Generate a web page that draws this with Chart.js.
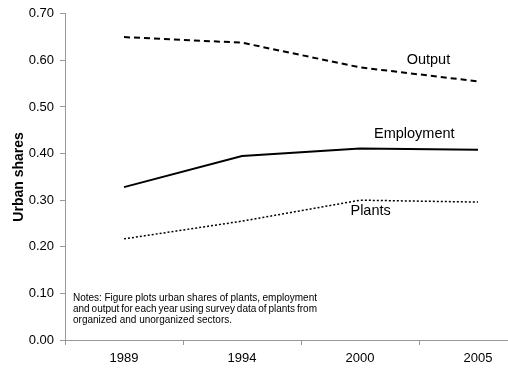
<!DOCTYPE html>
<html>
<head>
<meta charset="utf-8">
<script src="https://cdn.jsdelivr.net/npm/chart.js@4"></script>
<style>
html,body{margin:0;padding:0;background:#fff;overflow:hidden;}
canvas{display:block;}
</style>
</head>
<body>
<canvas id="c" width="540" height="371"></canvas>
<script>
const years = ['1989','1994','2000','2005'];
const output = [0.650, 0.638, 0.585, 0.555];
const employment = [0.328, 0.395, 0.411, 0.408];
const plants = [0.217, 0.255, 0.300, 0.296];
const yTicks = [0, 0.1, 0.2, 0.3, 0.4, 0.5, 0.6, 0.7];
const noteLines = [
  'Notes: Figure plots urban shares of plants, employment',
  'and output for each year using survey data of plants from',
  'organized and unorganized sectors.'
];

const FONT = '"Liberation Sans", Arial, sans-serif';

// series labels and the notes box
const labelsPlugin = {
  id:'seriesLabels',
  afterDraw(chart){
    const ctx = chart.ctx, x = chart.scales.x, y = chart.scales.y;
    ctx.save();
    ctx.fillStyle = '#000';
    ctx.font = '14.5px ' + FONT;
    ctx.textAlign = 'center';
    ctx.textBaseline = 'middle';
    ctx.fillText('Output', x.getPixelForValue(2.58), y.getPixelForValue(0.601));
    ctx.fillText('Employment', x.getPixelForValue(2.46), y.getPixelForValue(0.442));
    ctx.fillText('Plants', x.getPixelForValue(2.09), y.getPixelForValue(0.276));

    // notes, justified like the original
    ctx.font = '10px ' + FONT;
    ctx.textAlign = 'left';
    const left = chart.chartArea.left + 8, w = 244;
    noteLines.forEach((line, i) => {
      const ty = chart.chartArea.bottom - 42 + i * 11;
      const words = line.split(' ');
      let gap;
      if (i === noteLines.length - 1) {
        gap = ctx.measureText(' ').width;
      } else {
        const total = words.reduce((s, wd) => s + ctx.measureText(wd).width, 0);
        gap = (w - total) / (words.length - 1);
      }
      let cx = left;
      words.forEach(wd => { ctx.fillText(wd, cx, ty); cx += ctx.measureText(wd).width + gap; });
    });
    ctx.restore();
  }
};

new Chart(document.getElementById('c'), {
  type:'line',
  data:{
    labels:years,
    datasets:[
      {label:'Output', data:output, borderColor:'#000', borderWidth:2, borderDash:[6,4], pointRadius:0, tension:0},
      {label:'Employment', data:employment, borderColor:'#000', borderWidth:2, pointRadius:0, tension:0},
      {label:'Plants', data:plants, borderColor:'#000', borderWidth:1.5, borderDash:[2,2], pointRadius:0, tension:0}
    ]
  },
  options:{
    responsive:false,
    animation:false,
    layout:{padding:{top:11, right:3, left:0, bottom:0}},
    plugins:{legend:{display:false}, tooltip:{enabled:false}},
    scales:{
      x:{
        offset:true,
        grid:{offset:true, drawOnChartArea:false, drawTicks:true, tickLength:5, color:'#999'},
        border:{color:'#999'},
        ticks:{color:'#000', font:{family:FONT, size:13}, padding:6, maxRotation:0},
        afterFit(s){ s.height = 31; }
      },
      y:{
        min:0, max:0.7,
        afterBuildTicks(s){ s.ticks = yTicks.map(v => ({value:v})); },
        grid:{drawOnChartArea:false, drawTicks:true, tickLength:5, color:'#999'},
        border:{color:'#999'},
        ticks:{color:'#000', font:{family:FONT, size:13}, padding:6, callback:v => v.toFixed(2)},
        title:{display:true, text:'Urban shares', color:'#000', font:{family:FONT, size:14, weight:'bold'}, padding:{top:11, bottom:0}},
        afterFit(s){ s.width = 65; }
      }
    }
  },
  plugins:[labelsPlugin]
});
</script>
</body>
</html>
